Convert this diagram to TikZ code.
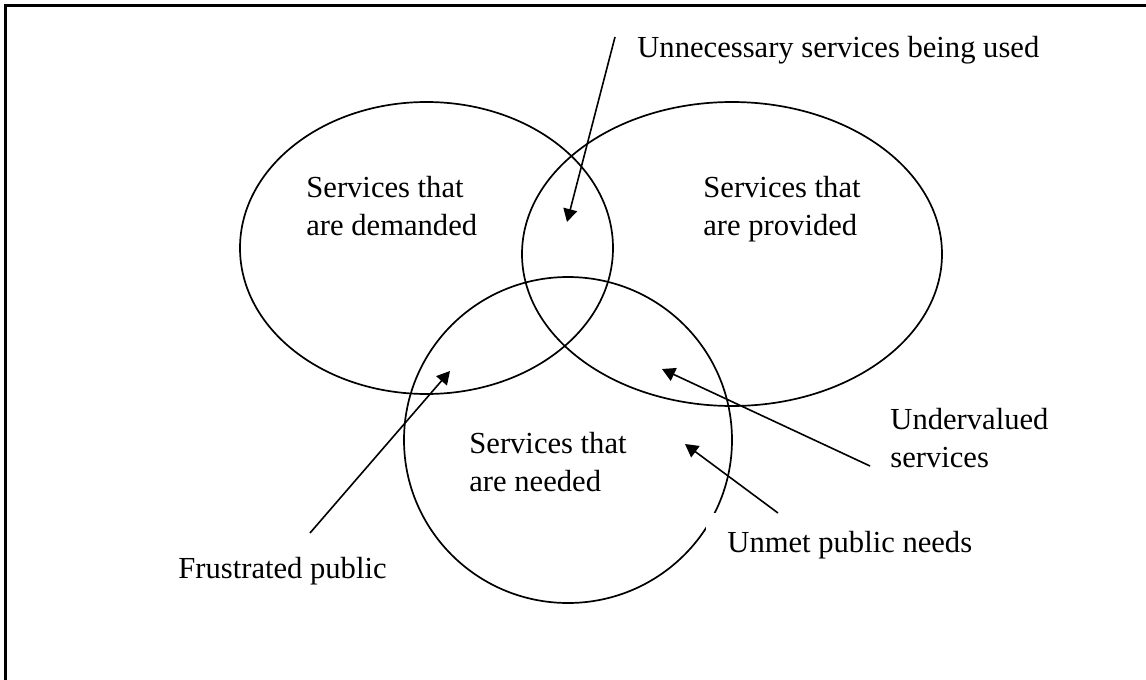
\documentclass[tikz,border=0pt]{standalone}
\usepackage{fontspec}
\setmainfont{Liberation Serif}
\usetikzlibrary{shapes.geometric,arrows.meta}
\begin{document}
\begin{tikzpicture}[x=0.5pt,y=-0.5pt,
  setshape/.style={draw,ellipse,inner sep=0pt,line width=0.85pt},
  lbl/.style={inner sep=0pt,anchor=base west,align=left,font=\fontsize{15.3pt}{18.75pt}\selectfont},
  pointer/.style={line width=0.8pt,-{Triangle[length=6.5pt,width=7pt]}}]
\useasboundingbox (0,0) rectangle (1146,680);
% frame
\coordinate (fbl) at (5.5,690);
\coordinate (ftl) at (5.5,5.5);
\coordinate (ftr) at (1160,5.5);
\draw[line width=1.1pt] (fbl) -- (ftl) -- (ftr);
% sets
\node[setshape,minimum width=186.5pt,minimum height=146pt] (dem) at (426.5,248) {};
\node[setshape,minimum width=210pt,minimum height=152pt] (prov) at (732,254) {};
\node[setshape,minimum width=164pt,minimum height=163pt] (need) at (568,440) {};
% set labels (base = last line)
\node[lbl] (tdem) at (306,235) {Services that\\are demanded};
\node[lbl] (tprov) at (703,235) {Services that\\are provided};
\node[lbl] (tneed) at (469,491) {Services that\\are needed};
% pointer labels
\node[lbl] (lunn) at (637,57) {Unnecessary services being used};
\node[lbl] (lfru) at (178,578) {Frustrated public};
\node[lbl] (lund) at (890,467) {Undervalued\\services};
\node[lbl,fill=white,inner xsep=10.5pt,inner ysep=9pt] (lunm) at (706,552) {Unmet public needs};
% arrows
\coordinate (a1s) at (615,37);  \coordinate (a1t) at (567,222);
\coordinate (a2s) at (310,533); \coordinate (a2t) at (450,371);
\coordinate (a3s) at (870,466); \coordinate (a3t) at (662,369);
\coordinate (a4s) at (778,513); \coordinate (a4t) at (685,444);
\draw[pointer] (a1s) -- (a1t);
\draw[pointer] (a2s) -- (a2t);
\draw[pointer] (a3s) -- (a3t);
\draw[pointer] (a4s) -- (a4t);
\end{tikzpicture}
\end{document}
